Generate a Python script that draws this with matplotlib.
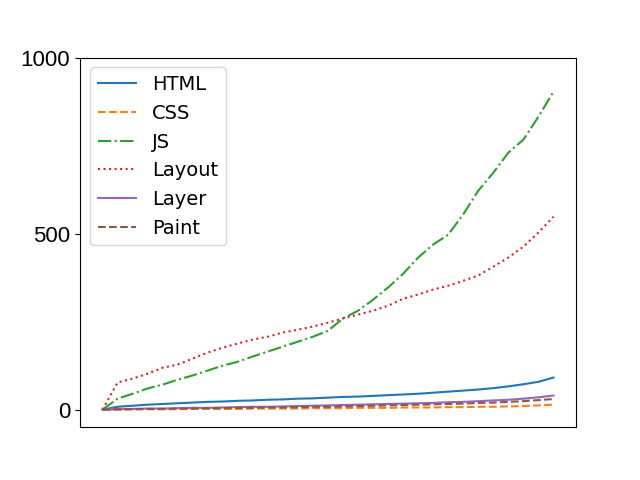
import numpy as np
import matplotlib
matplotlib.use('Agg')
import matplotlib.pyplot as plt

steps = np.arange(31)
html = [0, 8, 11, 14, 16, 18, 20, 22, 23, 25, 26, 28, 29, 31, 32, 34, 36, 37, 39, 41,
        43, 45, 48, 51, 54, 57, 61, 66, 72, 79, 91]
css = [0, 0, 1, 1, 1, 1, 2, 2, 2, 2, 3, 3, 3, 3, 4, 4, 4, 5, 5, 5,
       6, 6, 6, 7, 7, 8, 8, 9, 10, 12, 14]
js = [0, 31, 45, 60, 71, 85, 97, 111, 125, 136, 151, 165, 179, 193, 207, 224, 259, 281, 312, 347,
      386, 432, 469, 497, 555, 622, 673, 730, 767, 832, 903]
layout = [0, 77, 88, 102, 119, 128, 145, 162, 176, 188, 199, 207, 219, 227, 236, 247, 259, 270, 281, 295,
          315, 327, 341, 352, 366, 381, 406, 432, 463, 503, 548]
layer = [0, 1, 2, 3, 3, 4, 5, 5, 6, 7, 8, 8, 9, 10, 11, 12, 13, 14, 15, 16,
         17, 18, 19, 21, 22, 24, 26, 28, 31, 35, 40]
paint = [0, 1, 1, 2, 2, 3, 3, 4, 4, 5, 5, 6, 6, 7, 8, 8, 9, 10, 11, 12,
         13, 14, 15, 16, 17, 19, 20, 22, 24, 27, 30]

fig, ax = plt.subplots(figsize=(6.4, 4.8), dpi=100)

ax.plot(steps, html, '-', label='HTML')
ax.plot(steps, css, '--', label='CSS')
ax.plot(steps, js, '-.', label='JS')
ax.plot(steps, layout, ':', label='Layout')
ax.plot(steps, layer, '-', label='Layer')
ax.plot(steps, paint, '--', label='Paint')

ax.set_ylim(-50, 1000)
ax.set_yticks([0, 500, 1000])
ax.set_xticks([])
ax.tick_params(axis='y', labelsize=16, labelfontfamily='Liberation Sans')

ax.legend(loc='upper left', fontsize=14)

fig.savefig('out.png')
